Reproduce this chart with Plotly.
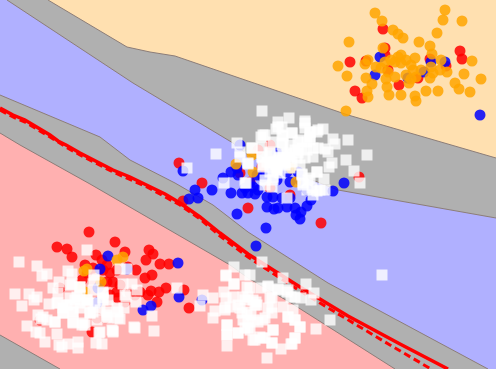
import plotly.graph_objects as go

# Chart coordinates
orange_edge_x = [48, 127, 150, 175, 248, 348, 496]
orange_edge_y = [0, 47, 52, 56, 81, 115, 158]
blue_top_x = [7, 133, 233, 248, 338, 496]
blue_top_y = [0, 83, 143, 155, 190, 218]
blue_low_x = [0, 100, 130, 175, 213, 248, 328, 488]
blue_low_y = [95, 137, 160, 183, 205, 232, 283, 369]
red_top_x = [0, 20, 90, 230, 248, 291, 395]
red_top_y = [133, 145, 184, 265, 278, 303, 369]
red_low_x = [0, 60]
red_low_y = [335, 369]

solid_x = [0, 13, 25, 37, 50, 58, 66, 80, 97, 113, 130, 147, 165, 180, 200, 220, 248, 300, 348, 400, 448]
solid_y = [108, 115, 120, 127, 135, 141, 145, 153, 162, 170, 177, 185, 194, 203, 217, 233, 254, 287, 316, 344, 369]
dash_x = [0, 13, 25, 37, 50, 66, 80, 113, 147, 180, 200, 220, 248, 300, 348, 390, 431]
dash_y = [110, 117, 122, 129, 137, 147, 155, 172, 187, 205, 219, 236, 257, 291, 320, 345, 369]

red_x = [383, 385, 460, 462, 350, 355, 362, 399, 388, 430, 446, 366, 385, 418,
         179, 202, 183, 248, 321, 359, 270, 290, 250, 270, 240, 262, 258,
         89, 57, 67, 72, 115, 96, 125, 149, 153, 146, 160, 169, 136, 152, 145, 166, 159, 151, 148,
         184, 189, 157, 85, 102, 107, 110, 117, 128, 82, 103, 113, 120, 107, 117, 110, 140, 135, 92,
         130, 100, 93, 87, 118, 125, 60, 40, 105, 97]
red_y = [29, 48, 51, 59, 62, 91, 98, 85, 70, 59, 66, 61, 55, 78,
         163, 183, 201, 208, 223, 177, 145, 195, 182, 188, 173, 167, 150,
         232, 247, 249, 257, 242, 255, 252, 250, 254, 260, 264, 264, 270, 275, 278, 288, 292, 291, 295,
         290, 308, 302, 265, 260, 265, 273, 270, 267, 280, 270, 282, 285, 282, 292, 295, 292, 295, 332,
         293, 285, 268, 273, 298, 302, 288, 320, 318, 318]

blue_x = [380, 375, 445, 431, 424, 480, 408,
          183, 212, 195, 189, 198, 223, 231, 238, 231, 242, 248, 255, 253, 267, 273, 282, 290, 267, 274,
          278, 287, 295, 307, 311, 296, 300, 301, 237, 266, 333, 344, 290, 298, 287, 240, 277, 257, 270,
          263, 237, 250, 258, 245, 300, 307, 277, 256,
          108, 100, 127, 178, 179, 151, 143, 98, 97, 202]
blue_y = [57, 75, 62, 62, 72, 115, 78,
          171, 190, 190, 199, 198, 178, 172, 175, 193, 193, 193, 194, 187, 197, 197, 198, 198, 207, 209,
          208, 207, 208, 206, 200, 215, 219, 212, 214, 228, 191, 183, 182, 172, 172, 145, 153, 175, 173,
          177, 168, 183, 190, 188, 180, 190, 180, 246,
          256, 269, 269, 263, 297, 306, 310, 288, 303, 300]

orange_x = [375, 445, 382, 443, 462, 393, 398, 403, 437, 349, 419, 430, 383, 432, 368, 365, 338, 347,
            366, 372, 367, 368, 346, 389, 387, 401, 415, 416, 426, 438, 455, 459, 470, 481, 464, 447,
            472, 441, 430, 440, 433, 431, 421, 415, 409, 411, 416, 413, 411, 406, 401, 398, 395, 401,
            386, 395, 388, 381, 376, 385, 406, 391,
            236, 252, 253, 291, 296,
            123, 117, 87, 84, 101, 80, 85]
orange_y = [13, 10, 21, 20, 21, 30, 34, 38, 33, 42, 42, 46, 48, 54, 60, 64, 66, 76,
            78, 84, 91, 97, 111, 95, 87, 95, 96, 101, 91, 91, 83, 89, 92, 79, 74, 72,
            61, 60, 78, 70, 73, 67, 70, 58, 83, 79, 77, 70, 65, 60, 55, 57, 62, 63,
            79, 77, 72, 68, 67, 62, 75, 60,
            164, 155, 172, 168, 182,
            257, 260, 269, 271, 282, 287, 292]

white_x = [262, 289, 278, 282, 276, 305, 323, 317, 310, 305, 292, 283, 265, 261, 333, 348, 335, 325, 328,
           367, 346, 332, 329, 354, 317, 324, 360, 325, 317, 313, 287, 224, 246, 187, 216, 237, 240, 240,
           248, 252, 262, 273, 282, 290, 298, 307, 313, 270, 267, 273, 282, 290, 298, 305, 297, 283, 277,
           270, 265, 273, 302, 310, 303, 307, 263, 262, 287, 302, 310, 292, 280, 285, 275, 270, 278, 290,
           300, 295, 382,
           278, 263, 282, 292, 305, 310, 318, 300, 310, 283, 270, 280, 272, 263, 277, 285, 290, 298, 307,
           313, 318, 273, 265, 272, 302, 308, 303, 312, 317, 252, 248, 245, 262, 320, 280, 273,
           262, 250, 268, 261, 278, 283, 306, 314, 288, 291, 301, 311, 330, 316, 293, 288, 295, 300, 295,
           291, 281, 267, 273, 272, 263, 253, 258, 265, 255, 270, 283, 250, 248, 251, 248, 256, 268,
           234, 245, 226, 234, 226, 213, 203, 200, 213, 215, 225, 227, 227, 227, 238, 245, 240, 245, 230, 242, 248,
           226, 234, 247, 224, 233, 243, 253, 268, 278, 272, 287, 295, 225, 238, 247, 257, 272, 243, 253, 263,
           272, 250, 260, 273, 255, 265, 272, 238, 227, 227, 295, 300, 288, 295, 292,
           87, 19, 37, 47, 42, 68, 72, 59, 15, 29, 37, 34, 22, 53, 58, 72, 49, 58, 63, 38, 43, 41, 47, 55,
           27, 36, 40, 45, 57, 59, 62, 68, 78, 78, 96, 102, 99, 113, 113, 134, 135, 154, 152, 120, 107, 97,
           90, 83, 73, 73, 80, 88, 75, 87, 103, 94, 94, 123, 132, 137, 126, 136, 124, 117, 108, 103, 107,
           118, 177, 80, 120, 127, 100, 77, 68, 93, 108, 82, 63,
           57, 70, 78, 87, 95, 103, 73, 63, 90, 107, 118, 73, 85, 55, 112, 100, 125, 103, 80, 70, 93, 80, 67]
white_y = [111, 118, 122, 127, 129, 121, 129, 132, 132, 128, 133, 136, 135, 137, 139, 140, 144, 149, 152,
           155, 160, 163, 167, 171, 172, 179, 183, 190, 191, 195, 198, 183, 183, 168, 154, 143, 152, 157,
           164, 148, 147, 142, 145, 145, 142, 142, 148, 153, 162, 162, 163, 155, 153, 158, 158, 155, 168,
           172, 180, 180, 174, 178, 185, 190, 165, 157, 153, 148, 137, 162, 158, 165, 165, 163, 160, 168,
           165, 150, 275,
           127, 135, 135, 133, 123, 132, 130, 140, 140, 143, 152, 157, 162, 167, 170, 163, 157, 150, 150,
           157, 148, 177, 185, 187, 175, 180, 183, 188, 172, 148, 163, 183, 157, 190, 173, 167,
           262, 275, 286, 288, 289, 278, 284, 293, 290, 297, 298, 300, 320, 329, 310, 317, 320, 327, 338,
           344, 349, 358, 330, 343, 338, 340, 322, 318, 305, 298, 307, 288, 297, 315, 328, 302, 308,
           267, 275, 276, 284, 298, 298, 295, 306, 318, 311, 310, 325, 335, 346, 333, 328, 308, 300, 307, 313, 322,
           275, 284, 287, 292, 297, 297, 300, 287, 290, 297, 292, 297, 308, 305, 312, 305, 307, 320, 320, 320,
           313, 330, 337, 330, 340, 338, 343, 333, 325, 335, 320, 327, 317, 338, 344,
           250, 262, 266, 274, 276, 271, 274, 282, 294, 294, 297, 300, 306, 288, 293, 284, 304, 303, 313, 315,
           317, 319, 320, 322, 326, 332, 333, 342, 334, 345, 347, 344, 342, 348, 343, 344, 333, 331, 332, 327,
           328, 331, 316, 319, 317, 320, 313, 323, 322, 312, 308, 303, 300, 300, 292, 275, 280, 284, 284, 290,
           297, 302, 308, 308, 300, 298, 312, 312, 288, 287, 269, 269, 310, 297, 305, 290, 318, 325, 308,
           303, 298, 303, 300, 303, 300, 312, 313, 313, 315, 318, 323, 325, 322, 330, 332, 295, 293, 287, 285, 312, 295, 305]

# Colours and sizes of the picture
GRAY = "#b0b0b0"
EDGE = "#8c7d78"


def line_trace(xs, ys, color=EDGE, width=1, dash="solid"):
    return go.Scatter(x=xs, y=ys, mode="lines", line=dict(color=color, width=width, dash=dash),
                      hoverinfo="skip", showlegend=False)


def fill_trace(xs, ys, color):
    return go.Scatter(x=xs, y=ys, mode="none", fill="toself", fillcolor=color,
                      hoverinfo="skip", showlegend=False)


def point_trace(xs, ys, color, symbol, size, opacity):
    return go.Scatter(x=xs, y=ys, mode="markers",
                      marker=dict(color=color, symbol=symbol, size=size, opacity=opacity, line=dict(width=0)),
                      hoverinfo="skip", showlegend=False)


fig = go.Figure()
fig.add_trace(fill_trace(orange_edge_x + [496, 48], orange_edge_y + [0, 0], "#ffe0b0"))
fig.add_trace(fill_trace([0] + blue_top_x + [496] + blue_low_x[::-1],
                         [0] + blue_top_y + [369] + blue_low_y[::-1], "#b0b0ff"))
fig.add_trace(fill_trace(red_top_x + red_low_x[::-1], red_top_y + red_low_y[::-1], "#ffb0b0"))
for xs, ys in [(orange_edge_x, orange_edge_y), (blue_top_x, blue_top_y), (blue_low_x, blue_low_y),
               (red_top_x, red_top_y), (red_low_x, red_low_y)]:
    fig.add_trace(line_trace(xs, ys))
fig.add_trace(line_trace(solid_x, solid_y, "#ff0000", 3.5))
fig.add_trace(line_trace(dash_x, dash_y, "#ff0000", 3, "7px,4px"))
fig.add_trace(point_trace(red_x, red_y, "#ff0000", "circle", 11, 0.85))
fig.add_trace(point_trace(blue_x, blue_y, "#0000ff", "circle", 11, 0.85))
fig.add_trace(point_trace(orange_x, orange_y, "#ffa500", "circle", 11, 0.85))
fig.add_trace(point_trace(white_x, white_y, "#ffffff", "square", 11, 0.8))

fig.update_layout(
    width=496, height=369, margin=dict(l=0, r=0, t=0, b=0),
    plot_bgcolor=GRAY, paper_bgcolor=GRAY, showlegend=False,
    xaxis=dict(range=[0, 496], visible=False, fixedrange=True),
    yaxis=dict(range=[369, 0], visible=False, fixedrange=True),
)
fig.write_html("out.html", config=dict(displayModeBar=False),
               post_script="document.body.style.margin='0';document.body.style.overflow='hidden';")
